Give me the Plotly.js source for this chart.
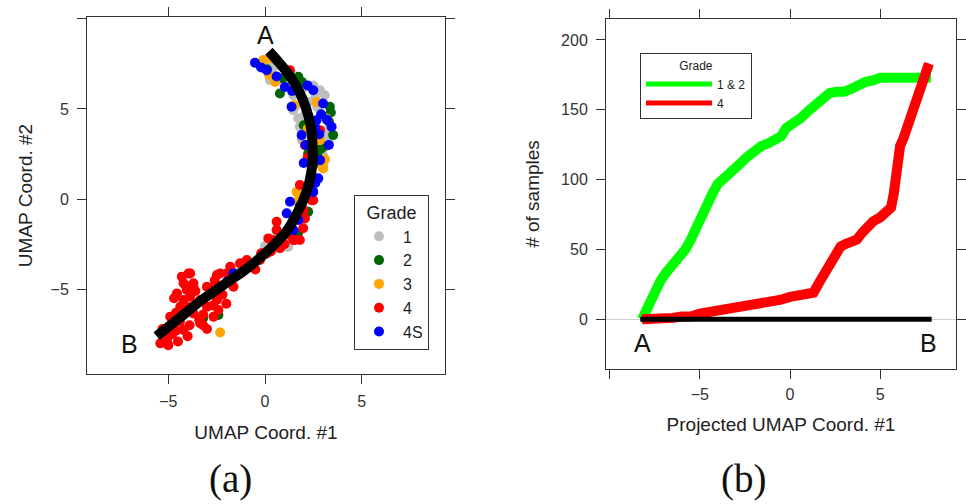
<!DOCTYPE html>
<html>
<head>
<meta charset="utf-8">
<script src="https://cdn.plot.ly/plotly-3.0.1.min.js"></script>
<style>html,body{margin:0;padding:0;background:#fff;}#chart{width:966px;height:504px;}</style>
</head>
<body>
<div id="chart"></div>
<script>
// ---------- Panel (a): UMAP scatter by grade ----------
var grade1X = [0.34, 0.0, 1.46, 2.06, 2.84, 3.09, 1.46, 2.15, 1.72, 1.8, 3.18, 2.84, 3.09, 0.6, 1.12, 1.2, -1.37, 1.12, 2.6, 2.3, 0.25, 1.9, 2.9, 3.3, 1.0, 2.7, 1.6, 2.0, 3.1, 2.5, 0.5, 3.0, 1.4, 0.0];
var grade1Y = [7.06, 7.45, 5.76, 6.22, 6.04, 5.76, 4.93, 4.93, 4.47, 4.01, 3.45, 2.16, 2.9, -1.72, -2.18, -2.64, -3.75, -2.64, 5.6, 5.4, 6.6, 3.3, 4.7, 3.1, 6.3, 5.1, 5.2, 4.6, 3.8, 6.3, 7.4, 2.4, -1.4, -2.6];

var grade2X = [-0.22, 1.72, 0.77, 3.35, 3.52, 3.0, 2.92, 2.23, 2.23, -2.41, 1.9, 2.7, 0.1, 3.3, 2.5, 2.0, 3.4, 0.9, 1.7, -3.2];
var grade2Y = [7.37, 6.78, 5.86, 5.12, 3.55, 2.9, 2.81, 2.53, -0.7, -6.43, 6.5, 2.5, 7.2, 4.3, 1.9, 4.1, 4.8, 6.7, -1.9, -6.6];

var grade3X = [-0.09, 0.52, 2.66, 3.18, 2.84, 3.0, 1.63, 3.0, -2.32, 1.5, 2.2, 0.2, 3.1, 2.4, 0.3, 1.7];
var grade3Y = [7.71, 6.5, 5.39, 4.47, 3.27, 1.79, 0.4, 1.7, -7.4, 5.2, 3.9, 6.9, 2.2, 4.2, 7.8, -0.1];

var grade4X = [1.29, 2.84, 2.06, 2.49, 1.89, 1.97, 1.55, 0.6, 0.17, 0.77, 0.09, -0.26, -1.03, -1.97, -2.49, -3.0, -2.32, -3.87, -3.7, -4.55, -4.04, -4.38, -3.35, -4.9, -3.7, -3.0, -2.49, -4.21, -5.07, -5.41, -3.35, -2.66, -2.41, -1.63, -3.95, -4.21, -3.7, -3.87, -4.38, -4.73, -2.84, -2.32, -1.8, -1.29, -0.94, 0.43, 1.8, 0.6, 1.46, 2.41, 2.06, 1.8, -5.2, -4.6, -3.2, -2.0, -0.5, 0.9, 2.2, -4.0, -3.4,
  -4.3, -4.1, -3.6, -4.7, -4.2, -3.9, -4.6, -4.4, -5.3, -4.8, -4.5, -3.9, -3.2, -2.7, -2.2, -2.6, -1.5, -1.1, -0.2, 0.3, 1.0, 1.3, 2.0, 2.3, -5.0, -3.0];
var grade4Y = [7.15, 3.82, 2.99, -0.06, -1.07, -1.62, -2.27, -1.72, -2.18, -2.73, -3.01, -3.38, -3.56, -4.12, -4.21, -4.86, -4.86, -4.12, -4.67, -5.23, -5.04, -5.97, -5.6, -6.52, -6.34, -5.97, -5.6, -7.26, -7.82, -8.0, -6.89, -6.52, -6.15, -4.86, -4.12, -4.67, -4.86, -5.41, -6.15, -6.89, -4.95, -4.12, -3.75, -3.56, -3.38, -2.27, 0.78, -1.26, -2.27, -0.06, -1.07, -2.27, -7.5, -7.3, -7.0, -5.8, -3.9, -2.0, 2.3, -7.6, -6.7,
  -4.3, -4.8, -5.1, -5.5, -5.6, -6.0, -6.3, -6.8, -7.2, -7.5, -7.9, -7.0, -6.4, -5.9, -5.3, -4.5, -4.2, -3.9, -3.0, -2.9, -2.5, -2.0, -0.6, 0.3, -8.1, -7.2];

var grade4SX = [-0.52, 0.09, 1.03, 2.49, 3.0, 1.37, 3.44, 2.66, 1.89, 2.58, 2.84, 2.75, 2.49, 1.29, 1.12, 1.46, 1.72, -1.63, -1.97, 3.3, 2.2, 0.6, 2.0, 2.9, 2.1, 3.2, 2.6, 1.8, -0.2, 1.4, 2.8];
var grade4SY = [7.56, 7.15, 6.22, 6.04, 5.3, 5.12, 4.01, 4.38, 3.55, 4.01, 2.16, 1.15, 0.4, -0.15, -0.79, -1.72, -1.16, -4.12, -4.58, 3.0, 6.3, 6.8, 2.0, 4.7, 3.0, 4.4, 0.9, -0.4, 7.3, 6.0, 3.6];

// principal curve from A to B
var curveX = [0.2, 0.7, 1.3, 1.75, 2.1, 2.35, 2.45, 2.45, 2.3, 2.0, 1.6, 1.1, 0.5, -0.2, -1.0, -1.8, -2.6, -3.4, -4.2, -4.9, -5.6];
var curveY = [8.2, 7.6, 6.8, 6.0, 5.1, 4.1, 3.1, 2.0, 1.0, 0.0, -0.9, -1.8, -2.5, -3.2, -3.9, -4.5, -5.1, -5.7, -6.4, -7.0, -7.6];

// ---------- Panel (b): cumulative counts along projected coordinate ----------
var g12X = [-8.2, -7.9, -7.6, -7.2, -6.9, -6.5, -6.1, -5.8, -5.5, -5.2, -4.9, -4.6, -4.3, -4.0, -3.6, -3.2, -2.8, -2.4, -2.0, -1.6, -1.2, -0.8, -0.5, -0.2, 0.2, 0.6, 1.0, 1.4, 1.8, 2.2, 2.6, 3.0, 3.4, 3.8, 4.2, 4.6, 5.0, 5.5, 6.0, 6.5, 7.0, 7.5, 7.8];
var g12Y = [0, 9, 19, 27, 33, 39, 45, 50, 57, 66, 75, 82, 90, 97, 101, 106, 111, 116, 121, 124, 126, 129, 131, 137, 140, 144, 149, 153, 157, 162, 163, 163, 165, 168, 170, 171, 173, 173, 173, 173, 173, 173, 173];

var g4X = [-8.2, -7.5, -7.0, -6.5, -6.0, -5.5, -5.0, -4.5, -4.0, -3.5, -3.0, -2.5, -2.0, -1.5, -1.0, -0.5, 0.0, 0.5, 1.0, 1.3, 1.6, 1.9, 2.2, 2.5, 2.8, 3.1, 3.4, 3.7, 4.0, 4.3, 4.6, 5.0, 5.3, 5.6, 5.75, 5.85, 5.95, 6.1, 6.3, 6.5, 6.7, 6.9, 7.1, 7.3, 7.5, 7.7];
var g4Y = [0, 0, 1, 1, 2, 2, 4, 5, 6, 7, 8, 9, 10, 11, 13, 14, 16, 17, 18, 19, 26, 32, 40, 46, 52, 54, 56, 57, 62, 67, 70, 73, 76, 80, 90, 105, 115, 124, 130, 138, 147, 155, 163, 170, 178, 183];

var projX = [-8.3, 7.85];
var projY = [0, 0];

// tick labels
var aXTicks = [-5, 0, 5];
var aXText = ['\u22125', '0', '5'];
var aYTicks = [-5, 0, 5, 10];
var aYText = ['\u22125', '0', '5', ''];
var bXTicks = [-10, -5, 0, 5];
var bXText = ['', '\u22125', '0', '5'];
var bYTicks = [0, 50, 100, 150, 200];
var bYText = ['0', '50', '100', '150', '200'];

var FONT = 'Liberation Sans, Arial, Helvetica, sans-serif';
var SERIF = 'Liberation Serif, DejaVu Serif, serif';
var msize = 10;
function pts(x, y, name, color) {
  return {x: x, y: y, name: name, type: 'scatter', mode: 'markers', xaxis: 'x', yaxis: 'y',
    marker: {color: color, size: msize, line: {width: 0}}, legend: 'legend'};
}
function cum(x, y, name, color, width, showlegend) {
  return {x: x, y: y, name: name, type: 'scatter', mode: 'lines', xaxis: 'x2', yaxis: 'y2',
    line: {color: color, width: width}, legend: 'legend2', showlegend: showlegend};
}
var traces = [
  pts(grade1X, grade1Y, '1', '#BEBEBE'),
  pts(grade2X, grade2Y, '2', '#006400'),
  pts(grade3X, grade3Y, '3', '#FFA500'),
  pts(grade4X, grade4Y, '4', '#FF0000'),
  pts(grade4SX, grade4SY, '4S', '#0000FF'),
  {x: curveX, y: curveY, type: 'scatter', mode: 'lines', xaxis: 'x', yaxis: 'y', showlegend: false,
    line: {color: '#000', width: 10, shape: 'spline'}, hoverinfo: 'skip'},
  // thin copies carry the legend entries (hidden beneath the thick lines)
  cum(g12X, g12Y, '1 & 2', '#00FF00', 5, true),
  cum(g4X, g4Y, '4', '#FF0000', 5, true),
  cum(g12X, g12Y, '1 & 2', '#00FF00', 10, false),
  cum(g4X, g4Y, '4', '#FF0000', 10, false),
  {x: projX, y: projY, type: 'scatter', mode: 'lines', xaxis: 'x2', yaxis: 'y2', showlegend: false,
    line: {color: '#000', width: 5}, hoverinfo: 'skip'}
];

function axis(extra) {
  var base = {showline: true, linecolor: '#333', linewidth: 1, mirror: 'ticks', ticks: 'outside',
    ticklen: 9, tickcolor: '#333', tickwidth: 1, showgrid: false, zeroline: false,
    tickfont: {family: FONT, size: 16, color: '#333'}, tickmode: 'array'};
  for (var k in extra) base[k] = extra[k];
  return base;
}
function ttl(text, standoff) {
  return {text: text, font: {family: FONT, size: 19, color: '#222'}, standoff: standoff};
}

var W = 966, H = 504;
var layout = {
  width: W, height: H,
  margin: {l: 0, r: 0, t: 0, b: 0},
  paper_bgcolor: '#fff', plot_bgcolor: '#fff',
  font: {family: FONT, color: '#222'},
  xaxis: axis({domain: [87 / W, 445 / W], range: [-9.2, 9.3], anchor: 'y',
    tickvals: aXTicks, ticktext: aXText, ticklabelstandoff: 4, title: ttl('UMAP Coord. #1', 16)}),
  yaxis: axis({domain: [1 - 374 / H, 1 - 17 / H], range: [-9.7, 10.1], anchor: 'x',
    tickvals: aYTicks, ticktext: aYText, ticklabelstandoff: 5, title: ttl('UMAP Coord. #2', 12)}),
  xaxis2: axis({domain: [606 / W, 956 / W], range: [-10.2, 9.2], anchor: 'y2',
    tickvals: bXTicks, ticktext: bXText, ticklabelstandoff: 2, title: ttl('Projected UMAP Coord. #1', 15)}),
  yaxis2: axis({domain: [1 - 369 / H, 1 - 19 / H], range: [-35.6, 215], anchor: 'x2',
    tickvals: bYTicks, ticktext: bYText, ticklabelstandoff: 5,
    zeroline: true, zerolinecolor: '#cfcfcf', zerolinewidth: 1, title: ttl('# of samples', 16)}),
  legend: {x: 354 / W, y: 1 - 195 / H, xanchor: 'left', yanchor: 'top',
    bgcolor: '#fff', bordercolor: '#333', borderwidth: 1,
    font: {family: FONT, size: 16, color: '#222'}, itemwidth: 38,
    title: {text: 'Grade', side: 'top center', font: {family: FONT, size: 18, color: '#222'}},
    tracegroupgap: 0},
  legend2: {x: 640 / W, y: 1 - 53 / H, xanchor: 'left', yanchor: 'top',
    bgcolor: '#fff', bordercolor: '#333', borderwidth: 1,
    font: {family: FONT, size: 12, color: '#222'}, itemwidth: 66,
    title: {text: 'Grade', side: 'top center', font: {family: FONT, size: 12, color: '#222'}}},
  annotations: [
    {xref: 'x', yref: 'y', x: 0.04, y: 9.1, text: 'A', showarrow: false, font: {family: FONT, size: 25, color: '#111'}},
    {xref: 'x', yref: 'y', x: -7.0, y: -8.05, text: 'B', showarrow: false, font: {family: FONT, size: 25, color: '#111'}},
    {xref: 'x2', yref: 'y2', x: -8.16, y: -17, text: 'A', showarrow: false, font: {family: FONT, size: 25, color: '#111'}},
    {xref: 'x2', yref: 'y2', x: 7.69, y: -17, text: 'B', showarrow: false, font: {family: FONT, size: 25, color: '#111'}},
    {xref: 'paper', yref: 'paper', x: 230 / W, y: 1 - 479 / H, xanchor: 'center', yanchor: 'middle',
      text: '(a)', showarrow: false, font: {family: SERIF, size: 39, color: '#111'}},
    {xref: 'paper', yref: 'paper', x: 743 / W, y: 1 - 479 / H, xanchor: 'center', yanchor: 'middle',
      text: '(b)', showarrow: false, font: {family: SERIF, size: 39, color: '#111'}}
  ],
  showlegend: true
};

Plotly.newPlot('chart', traces, layout, {displayModeBar: false, staticPlot: true});
</script>
</body>
</html>
